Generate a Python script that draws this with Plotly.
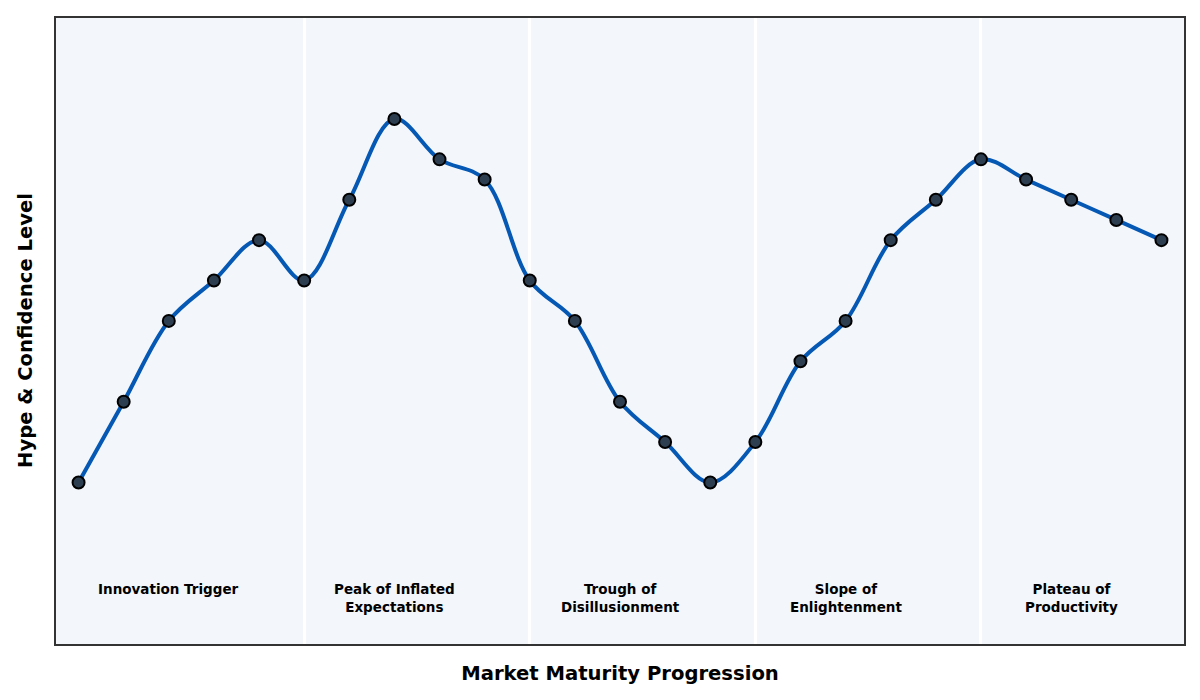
import plotly.graph_objects as go

# data
step = list(range(25))
hype = [20, 40, 60, 70, 80, 70, 90, 110, 100, 95,
        70, 60, 40, 30, 20, 30, 50, 60, 80, 90,
        100, 95, 90, 85, 80]
phaseBounds = [5, 10, 15, 20]
phaseCenters = [2, 7, 12, 17, 22]
phaseNames = ["Innovation Trigger", "Peak of Inflated<br>Expectations",
              "Trough of<br>Disillusionment", "Slope of<br>Enlightenment",
              "Plateau of<br>Productivity"]

fig = go.Figure()
fig.add_trace(go.Scatter(x=step, y=hype, mode="lines+markers",
                         line=dict(color="#0558b4", width=4, shape="spline", smoothing=1.0),
                         marker=dict(size=12, color="#2c3e50", line=dict(color="black", width=2)),
                         showlegend=False, hoverinfo="skip"))

# phase labels
for xc, name in zip(phaseCenters, phaseNames):
    fig.add_annotation(x=xc, y=-3.8, text="<b>" + name + "</b>", showarrow=False,
                       yanchor="top", xanchor="center",
                       font=dict(size=13.5, color="black", family="DejaVu Sans"))

# y title as annotation so it sits close to the frame
fig.add_annotation(xref="paper", yref="paper", x=0, y=0.5, xshift=-31,
                   xanchor="center", yanchor="middle",
                   text="<b>Hype & Confidence Level</b>", textangle=-90, showarrow=False,
                   font=dict(size=19.6, family="DejaVu Sans", color="black"))

fig.update_xaxes(range=[-0.5, 24.5], tickvals=phaseBounds, showticklabels=False,
                 showgrid=True, gridcolor="white", gridwidth=3, zeroline=False,
                 showline=True, mirror=True, linecolor="#333333", linewidth=2, ticks="",
                 title=dict(text="<b>Market Maturity Progression</b>", standoff=21,
                            font=dict(size=19.6, family="DejaVu Sans", color="black")))
fig.update_yaxes(range=[-20, 135], showticklabels=False, showgrid=False, zeroline=False,
                 showline=True, mirror=True, linecolor="#333333", linewidth=2, ticks="")
fig.update_layout(width=1200, height=700, plot_bgcolor="#f3f6fa", paper_bgcolor="white",
                  margin=dict(l=48, r=24, t=8, b=64),
                  font=dict(family="DejaVu Sans"))

fig.write_html("out.html")
